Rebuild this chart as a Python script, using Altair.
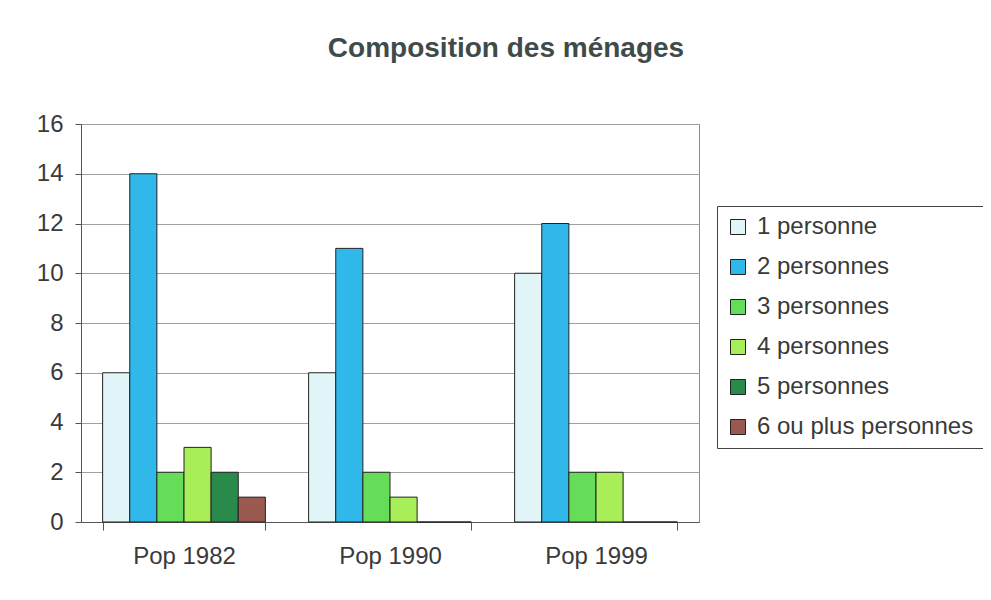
import altair as alt
import pandas as pd

groups = ["Pop 1982", "Pop 1990", "Pop 1999"]
series = ["1 personne", "2 personnes", "3 personnes", "4 personnes",
          "5 personnes", "6 ou plus personnes"]
values = {
    "1 personne": [6, 6, 10],
    "2 personnes": [14, 11, 12],
    "3 personnes": [2, 2, 2],
    "4 personnes": [3, 1, 2],
    "5 personnes": [2, 0, 0],
    "6 ou plus personnes": [1, 0, 0],
}
colors = ["#E2F6FA", "#30B8EA", "#66DD58", "#A8EE58", "#2A8A4C", "#9A5A50"]

rows = []
for s in series:
    for g, v in zip(groups, values[s]):
        rows.append({"groupe": g, "serie": s, "valeur": v})
df = pd.DataFrame(rows)

font = "Liberation Sans"

chart = alt.Chart(df).mark_bar(stroke="#222222", strokeWidth=1).encode(
    x=alt.X("groupe:N", sort=groups, title=None,
            scale=alt.Scale(paddingInner=0.21, paddingOuter=0.105),
            axis=alt.Axis(labelAngle=0, tickBand="extent", tickSize=8,
                          labelPadding=14, labelFontSize=24, labelColor="#3a3a3a",
                          labelFont=font, domainColor="#555555", tickColor="#555555",
                          grid=False)),
    xOffset=alt.XOffset("serie:N", sort=series, scale=alt.Scale(paddingInner=0, paddingOuter=0)),
    y=alt.Y("valeur:Q", title=None,
            scale=alt.Scale(domain=[0, 16]),
            axis=alt.Axis(values=list(range(0, 17, 2)), tickSize=6, labelPadding=12,
                          labelFontSize=24, labelColor="#3a3a3a", labelFont=font,
                          domainColor="#555555", tickColor="#555555",
                          gridColor="#a0a0a0", gridWidth=1)),
    color=alt.Color("serie:N", sort=series,
                    scale=alt.Scale(domain=series, range=colors),
                    legend=alt.Legend(title=None, orient="none", legendX=636, legendY=82,
                                      symbolType="square", symbolSize=225,
                                      symbolStrokeColor="#222222", symbolStrokeWidth=1,
                                      labelFontSize=24, labelFont=font, labelColor="#3a3a3a",
                                      labelOffset=7, rowPadding=16, padding=9,
                                      strokeColor="#444444", fillColor="white",
                                      labelLimit=400)),
).properties(
    width=618,
    height=398,
    padding={"left": 73, "top": 116, "right": 284, "bottom": 70},
    autosize=alt.AutoSizeParams(type="none"),
    title=alt.TitleParams("Composition des ménages", fontSize=28, font=font,
                          fontWeight="bold", color="#3F4B49", offset=49, dx=116,
                          anchor="middle"),
).configure_view(stroke="#8a8a8a", strokeWidth=1)

chart.save("out.html", embed_options={"renderer": "svg", "actions": False})
